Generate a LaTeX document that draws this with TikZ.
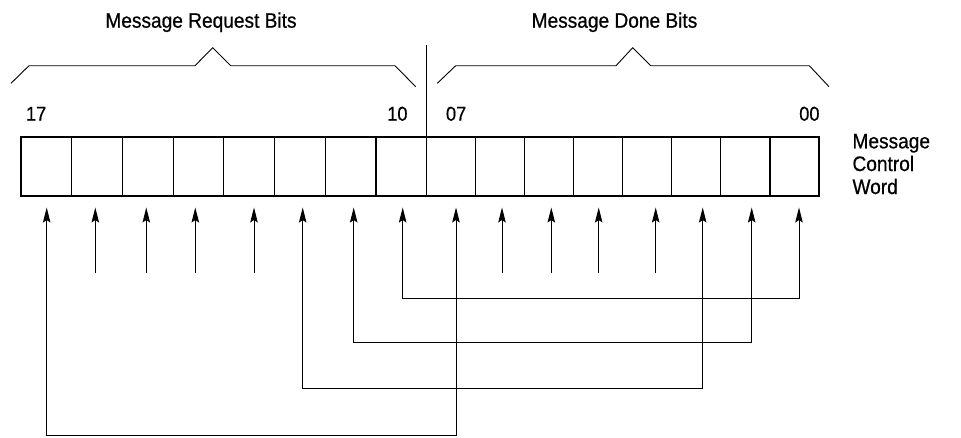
\documentclass[tikz,border=0pt]{standalone}
\usepackage{fontspec}
\setmainfont{Liberation Sans}[FakeStretch=0.91,FakeBold=0.6]
\usetikzlibrary{arrows.meta}
\begin{document}
\begin{tikzpicture}[x=1pt,y=-1pt,
  line width=1pt,
  cell/.style={minimum height=59pt, inner sep=0pt, outer sep=0pt},
  grid/.style={line width=1.1pt},
  lbl/.style={font=\fontsize{21}{23}\selectfont, inner sep=0pt},
  num/.style={font=\fontsize{20}{23}\selectfont, inner sep=0pt},
  arr/.style={-{Stealth[length=15pt,width=7.5pt,inset=2.5pt]}},
  darr/.style={{Stealth[length=15pt,width=7.5pt,inset=2.5pt]}-{Stealth[length=15pt,width=7.5pt,inset=2.5pt]}},
  brace/.style={line width=0.9pt, line join=miter}]
\useasboundingbox (0,0) rectangle (961,437);
% cells, left half (bits 17..10)
\foreach \n [count=\i from 0] in {17,16,15,14,13,12,11,10}{
  \node[cell, minimum width=50.71pt] (c\n) at ({21+50.71*(\i+0.5)},166.5) {};
}
% cells, right half (bits 07..00)
\foreach \n [count=\i from 0] in {07,06,05,04,03,02,01,00}{
  \node[cell, minimum width=49.04pt] (c\n) at ({426.7+49.04*(\i+0.5)},166.5) {};
}
% register outline and cell dividers
\draw[grid] (c17.north west) rectangle (c00.south east);
\foreach \n in {17,16,15,14,13,12,11,10,07,06,05,04,03,02,01}{
  \draw[grid] (c\n.north east) -- (c\n.south east);
}
% separator
\coordinate (sepT) at (426.7,45);
\draw (sepT) -- (sepT |- c10.north);
% braces
\draw[brace] (11,83.3) -- (29,65.7) -- (195,65.7) -- (212.7,47.7) -- (230.7,65.7) -- (395,65.7) -- (415.7,86.7);
\draw[brace] (437.3,83.3) -- (455.7,65.7) -- (616,65.7) -- (632.7,47.7) -- (650.7,65.7) -- (809.3,65.7) -- (829,86.7);
% headings
\node[lbl, anchor=base] (hreq) at (201,27.7) {Message Request Bits};
\node[lbl, anchor=base] (hdone) at (614.5,27.7) {Message Done Bits};
% bit numbers
\node[num, anchor=base west] (n17) at (25.5,120.7) {17};
\node[num, anchor=base east] (n10) at (408,120.7) {10};
\node[num, anchor=base west] (n07) at (445.5,120.7) {07};
\node[num, anchor=base east] (n00) at (820,120.7) {00};
% word label
\node[lbl, anchor=base west] (mcw1) at (852,148.3) {Message};
\node[lbl, anchor=base west] (mcw2) at (852,171) {Control};
\node[lbl, anchor=base west] (mcw3) at (852,194) {Word};
% arrow tips
\foreach \n/\x in {17/46.7,16/95.3,15/146.3,14/195.3,13/254,12/302.7,11/353.7,10/402.7,
                   07/456,06/502,05/551.3,04/598.7,03/655.7,02/702.7,01/751.7,00/799}{
  \coordinate (a\n) at (\x,207.5);
}
% short arrows
\coordinate (low) at (0,272.7);
\foreach \n in {16,15,14,13,06,05,04,03}{
  \draw[arr] (a\n |- low) -- (a\n);
}
% connector levels
\coordinate (h1) at (0,298.3);
\coordinate (h2) at (0,342.3);
\coordinate (h3) at (0,388.3);
\coordinate (h4) at (0,435.8);
\draw[darr] (a10) -- (a10 |- h1) -- (a00 |- h1) -- (a00);
\draw[darr] (a11) -- (a11 |- h2) -- (a01 |- h2) -- (a01);
\draw[darr] (a12) -- (a12 |- h3) -- (a02 |- h3) -- (a02);
\draw[darr] (a17) -- (a17 |- h4) -- (a07 |- h4) -- (a07);
\end{tikzpicture}
\end{document}
